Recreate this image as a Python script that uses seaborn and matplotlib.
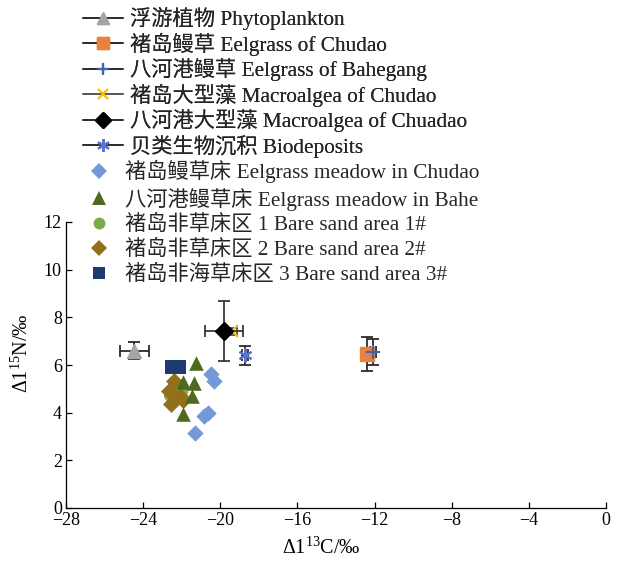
import matplotlib
matplotlib.use('Agg')
import matplotlib.pyplot as plt
from matplotlib.lines import Line2D
import pandas as pd
import seaborn as sns

sns.set_theme(style='ticks')
plt.rcParams['font.family'] = ['Liberation Serif', 'Noto Sans CJK SC', 'DejaVu Sans']
plt.rcParams['mathtext.fontset'] = 'custom'
plt.rcParams['mathtext.rm'] = 'Liberation Serif'
plt.rcParams['mathtext.it'] = 'Liberation Serif:italic'
plt.rcParams['axes.unicode_minus'] = True

# Potential food sources: mean and standard deviation
source_labels = ['浮游植物 Phytoplankton', '褚岛鳗草 Eelgrass of Chudao',
                 '八河港鳗草 Eelgrass of Bahegang', '褚岛大型藻 Macroalgea of Chudao',
                 '八河港大型藻 Macroalgea of Chuadao', '贝类生物沉积 Biodeposits']
source_c = [-24.45, -12.38, -12.07, -19.4, -19.8, -18.72]
source_n = [6.6, 6.46, 6.54, 7.42, 7.41, 6.4]
source_c_sd = [0.73, 0.1, 0.15, 0.28, 0.97, 0.15]
source_n_sd = [0.36, 0.72, 0.53, 0.15, 1.26, 0.38]

# Consumer samples by area
meadow_chudao_c = [-20.48, -20.31, -20.85, -20.62, -21.31]
meadow_chudao_n = [5.63, 5.31, 3.84, 3.98, 3.14]
meadow_bahe_c = [-21.28, -21.92, -21.36, -21.45, -21.92]
meadow_bahe_n = [6.08, 5.28, 5.24, 4.71, 3.94]
bare1_c = [-22.6, -22.05]
bare1_n = [4.75, 4.9]
bare2_c = [-22.4, -22.66, -22.09, -22.56, -21.95]
bare2_n = [5.31, 4.89, 4.68, 4.37, 4.52]
bare3_c = [-22.52, -22.14]
bare3_n = [5.91, 5.91]

group_labels = ['褚岛鳗草床 Eelgrass meadow in Chudao', '八河港鳗草床 Eelgrass meadow in Bahe',
                '褚岛非草床区 1 Bare sand area 1#', '褚岛非草床区 2 Bare sand area 2#',
                '褚岛非海草床区 3 Bare sand area 3#']

x_ticks = [-28, -24, -20, -16, -12, -8, -4, 0]
y_ticks = [0, 2, 4, 6, 8, 10, 12]

# styles
src_style = [
    dict(marker='^', color='#a5a5a5', ms=10, ecolor='#2b2b2b', line='#2b2b2b'),
    dict(marker='s', color='#e8833f', ms=9.5, ecolor='#2b2b2b', line='#2b2b2b'),
    dict(marker='+', color='#3d67a8', ms=10, ecolor='#2b2b2b', line='#2b2b2b', mew=1.6),
    dict(marker='x', color='#ffc000', ms=8, ecolor='#555555', line='#555555', mew=1.4),
    dict(marker='D', color='#000000', ms=9, ecolor='#3a3a3a', line='#2b2b2b'),
    dict(marker=(6, 2, 0), color='#5b72c8', ms=10, ecolor='#2b2b2b', line='#2b2b2b', mew=1.4),
]
grp_style = [
    dict(marker='D', color='#7399d6', s=70),
    dict(marker='^', color='#4f6a1c', s=110),
    dict(marker='o', color='#7aab48', s=90),
    dict(marker='D', color='#92701a', s=75),
    dict(marker='s', color='#1f3a6e', s=110),
]

fig = plt.figure(figsize=(6.26, 5.61), dpi=100)
ax = fig.add_axes([66 / 626, 1 - 508 / 561, 540 / 626, 286 / 561])

for i in [0, 3, 4, 5, 1, 2]:
    st = src_style[i]
    ax.errorbar(source_c[i], source_n[i], xerr=source_c_sd[i], yerr=source_n_sd[i],
                fmt='none', ecolor=st['ecolor'], elinewidth=1.3, capsize=4, capthick=1.3, zorder=2)
    ax.plot(source_c[i], source_n[i], linestyle='none', marker=st['marker'],
            markersize=st['ms'], color=st['color'], markeredgecolor=st['color'],
            markeredgewidth=st.get('mew', 1.0), zorder=3)

groups_c = [meadow_chudao_c, meadow_bahe_c, bare1_c, bare2_c, bare3_c]
groups_n = [meadow_chudao_n, meadow_bahe_n, bare1_n, bare2_n, bare3_n]
for i in [2, 3, 4, 1, 0]:
    df = pd.DataFrame({'c': groups_c[i], 'n': groups_n[i]})
    st = grp_style[i]
    sns.scatterplot(data=df, x='c', y='n', ax=ax, marker=st['marker'], color=st['color'],
                    s=st['s'], linewidth=0, legend=False, zorder=4)

ax.set_xlim(-28, 0)
ax.set_ylim(0, 12)
ax.set_xticks(x_ticks)
ax.set_yticks(y_ticks)
ax.tick_params(direction='in', length=4, width=0.9, labelsize=13, colors='black', pad=3)
for s in ['top', 'right']:
    ax.spines[s].set_visible(False)
for s in ['left', 'bottom']:
    ax.spines[s].set_color('black')
    ax.spines[s].set_linewidth(0.9)
ax.set_xlabel('Δ1$^{13}$C/‰', fontsize=14.5, color='black')
ax.set_ylabel('Δ1$^{15}$N/‰', fontsize=14.5, color='black')
ax.xaxis.set_label_coords((321 - 66) / 540, (508 - 548) / 286)
ax.xaxis.label.set_va('center')
ax.yaxis.set_label_coords((22 - 66) / 540, (508 - 353) / 286)
ax.yaxis.label.set_va('center')

# legends
fs = 15.3
h1 = [Line2D([0], [0], color=st['line'], lw=1.2, marker=st['marker'], markersize=st['ms'] * 0.9,
             markerfacecolor=st['color'], markeredgecolor=st['color'],
             markeredgewidth=st.get('mew', 1.0)) for st in src_style]
leg1 = fig.legend(h1, source_labels, loc='upper left', bbox_to_anchor=(83 / 626, 1 - 7 / 561),
                  frameon=False, fontsize=fs, handlelength=1.9, handletextpad=0.33,
                  labelspacing=0.12, borderpad=0, borderaxespad=0)
h2 = [Line2D([0], [0], linestyle='none', marker=st['marker'], markersize=8.5 if st['marker'] != '^' else 10,
             markerfacecolor=st['color'], markeredgewidth=0) for st in grp_style]
leg2 = fig.legend(h2, group_labels, loc='upper left', bbox_to_anchor=(89 / 626, 1 - 160 / 561),
                  frameon=False, fontsize=fs, handlelength=0.95, handletextpad=0.75,
                  labelspacing=0.22, borderpad=0, borderaxespad=0)
fig.add_artist(leg1)

fig.savefig('out.png', dpi=100)
